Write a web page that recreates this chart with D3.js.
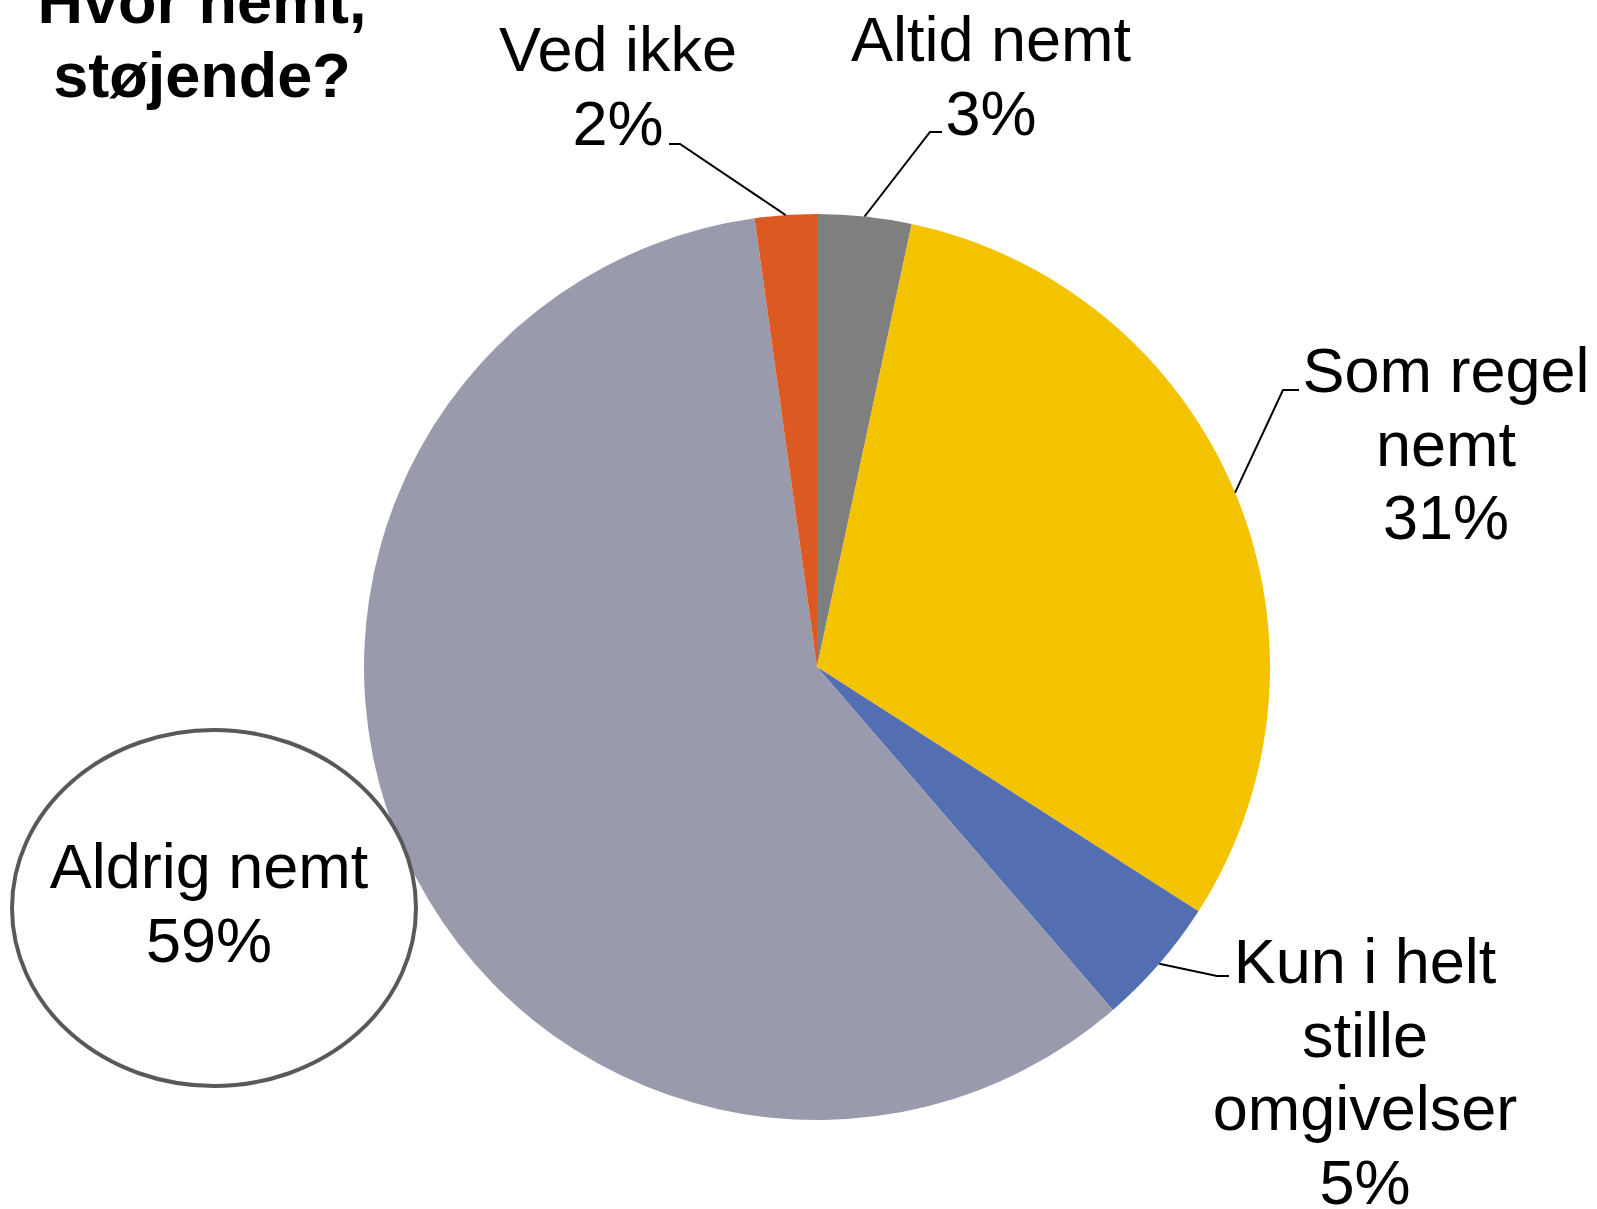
<!DOCTYPE html>
<html>
<head>
<meta charset="utf-8">
<script src="https://cdn.jsdelivr.net/npm/d3@7"></script>
<style>
  html, body { margin: 0; padding: 0; background: #ffffff; }
  svg { display: block; }
  text { font-family: "Liberation Sans", Arial, Helvetica, sans-serif; fill: #000; }
</style>
</head>
<body>
<svg id="chart" width="1597" height="1209"></svg>
<script>
// ---- Data ----
const categories = ["Altid nemt", "Som regel nemt", "Kun i helt stille omgivelser", "Aldrig nemt", "Ved ikke"];
const values = [3.35, 30.7, 4.6, 59.1, 2.2];
const colors = ["#7f7f7f", "#f4c300", "#536eb1", "#999aac", "#dc5a22"];
const labelLines = [
  ["Altid nemt"],
  ["Som regel", "nemt"],
  ["Kun i helt", "stille", "omgivelser"],
  ["Aldrig nemt"],
  ["Ved ikke"]
];
const titleLines = ["Hvor nemt,", "støjende?"];

// ---- Layout ----
const W = 1597, H = 1209;
const cx = 817, cy = 667, R = 453;
const fontSize = 63, lineH = 73.5;
// label placement: x centre, first baseline, leader elbow and end (null = no leader)
const labelLayout = [
  { x: 991,  y: 61,  elbow: [930, 132], end: [942, 132] },
  { x: 1446, y: 392, elbow: [1283, 390], end: [1299, 390] },
  { x: 1365, y: 983, elbow: [1217, 976], end: [1229, 976] },
  { x: 209,  y: 888, elbow: null, end: null },
  { x: 618,  y: 71,  elbow: [680, 144], end: [669, 144] }
];

const svg = d3.select("#chart");

const pie = d3.pie().sort(null).value(d => d)(values);
const arc = d3.arc().innerRadius(0).outerRadius(R);

const g = svg.append("g").attr("transform", `translate(${cx},${cy})`);
g.selectAll("path.slice")
  .data(pie)
  .join("path")
  .attr("class", "slice")
  .attr("d", arc)
  .attr("fill", (d, i) => colors[i]);

// Leader lines
pie.forEach((d, i) => {
  const L = labelLayout[i];
  if (!L.elbow) return;
  const a = (d.startAngle + d.endAngle) / 2;
  const sx = cx + R * Math.sin(a), sy = cy - R * Math.cos(a);
  svg.append("polyline")
    .attr("points", [[sx, sy], L.elbow, L.end].map(p => p.join(",")).join(" "))
    .attr("fill", "none")
    .attr("stroke", "#000")
    .attr("stroke-width", 2);
});

// Ellipse highlight around "Aldrig nemt"
svg.append("ellipse")
  .attr("cx", 214).attr("cy", 908)
  .attr("rx", 202).attr("ry", 178)
  .attr("fill", "#fff")
  .attr("stroke", "#595959")
  .attr("stroke-width", 4);

// Labels
pie.forEach((d, i) => {
  const L = labelLayout[i];
  const lines = labelLines[i].concat([Math.round(values[i]) + "%"]);
  const t = svg.append("text")
    .attr("text-anchor", "middle")
    .attr("font-size", fontSize);
  lines.forEach((s, k) => {
    t.append("tspan").attr("x", L.x).attr("y", L.y + k * lineH).text(s);
  });
});

// Title
const tt = svg.append("text")
  .attr("text-anchor", "middle")
  .attr("font-size", 63)
  .attr("font-weight", "bold");
titleLines.forEach((s, k) => {
  tt.append("tspan").attr("x", 202).attr("y", 23 + k * lineH).text(s);
});
</script>
</body>
</html>
